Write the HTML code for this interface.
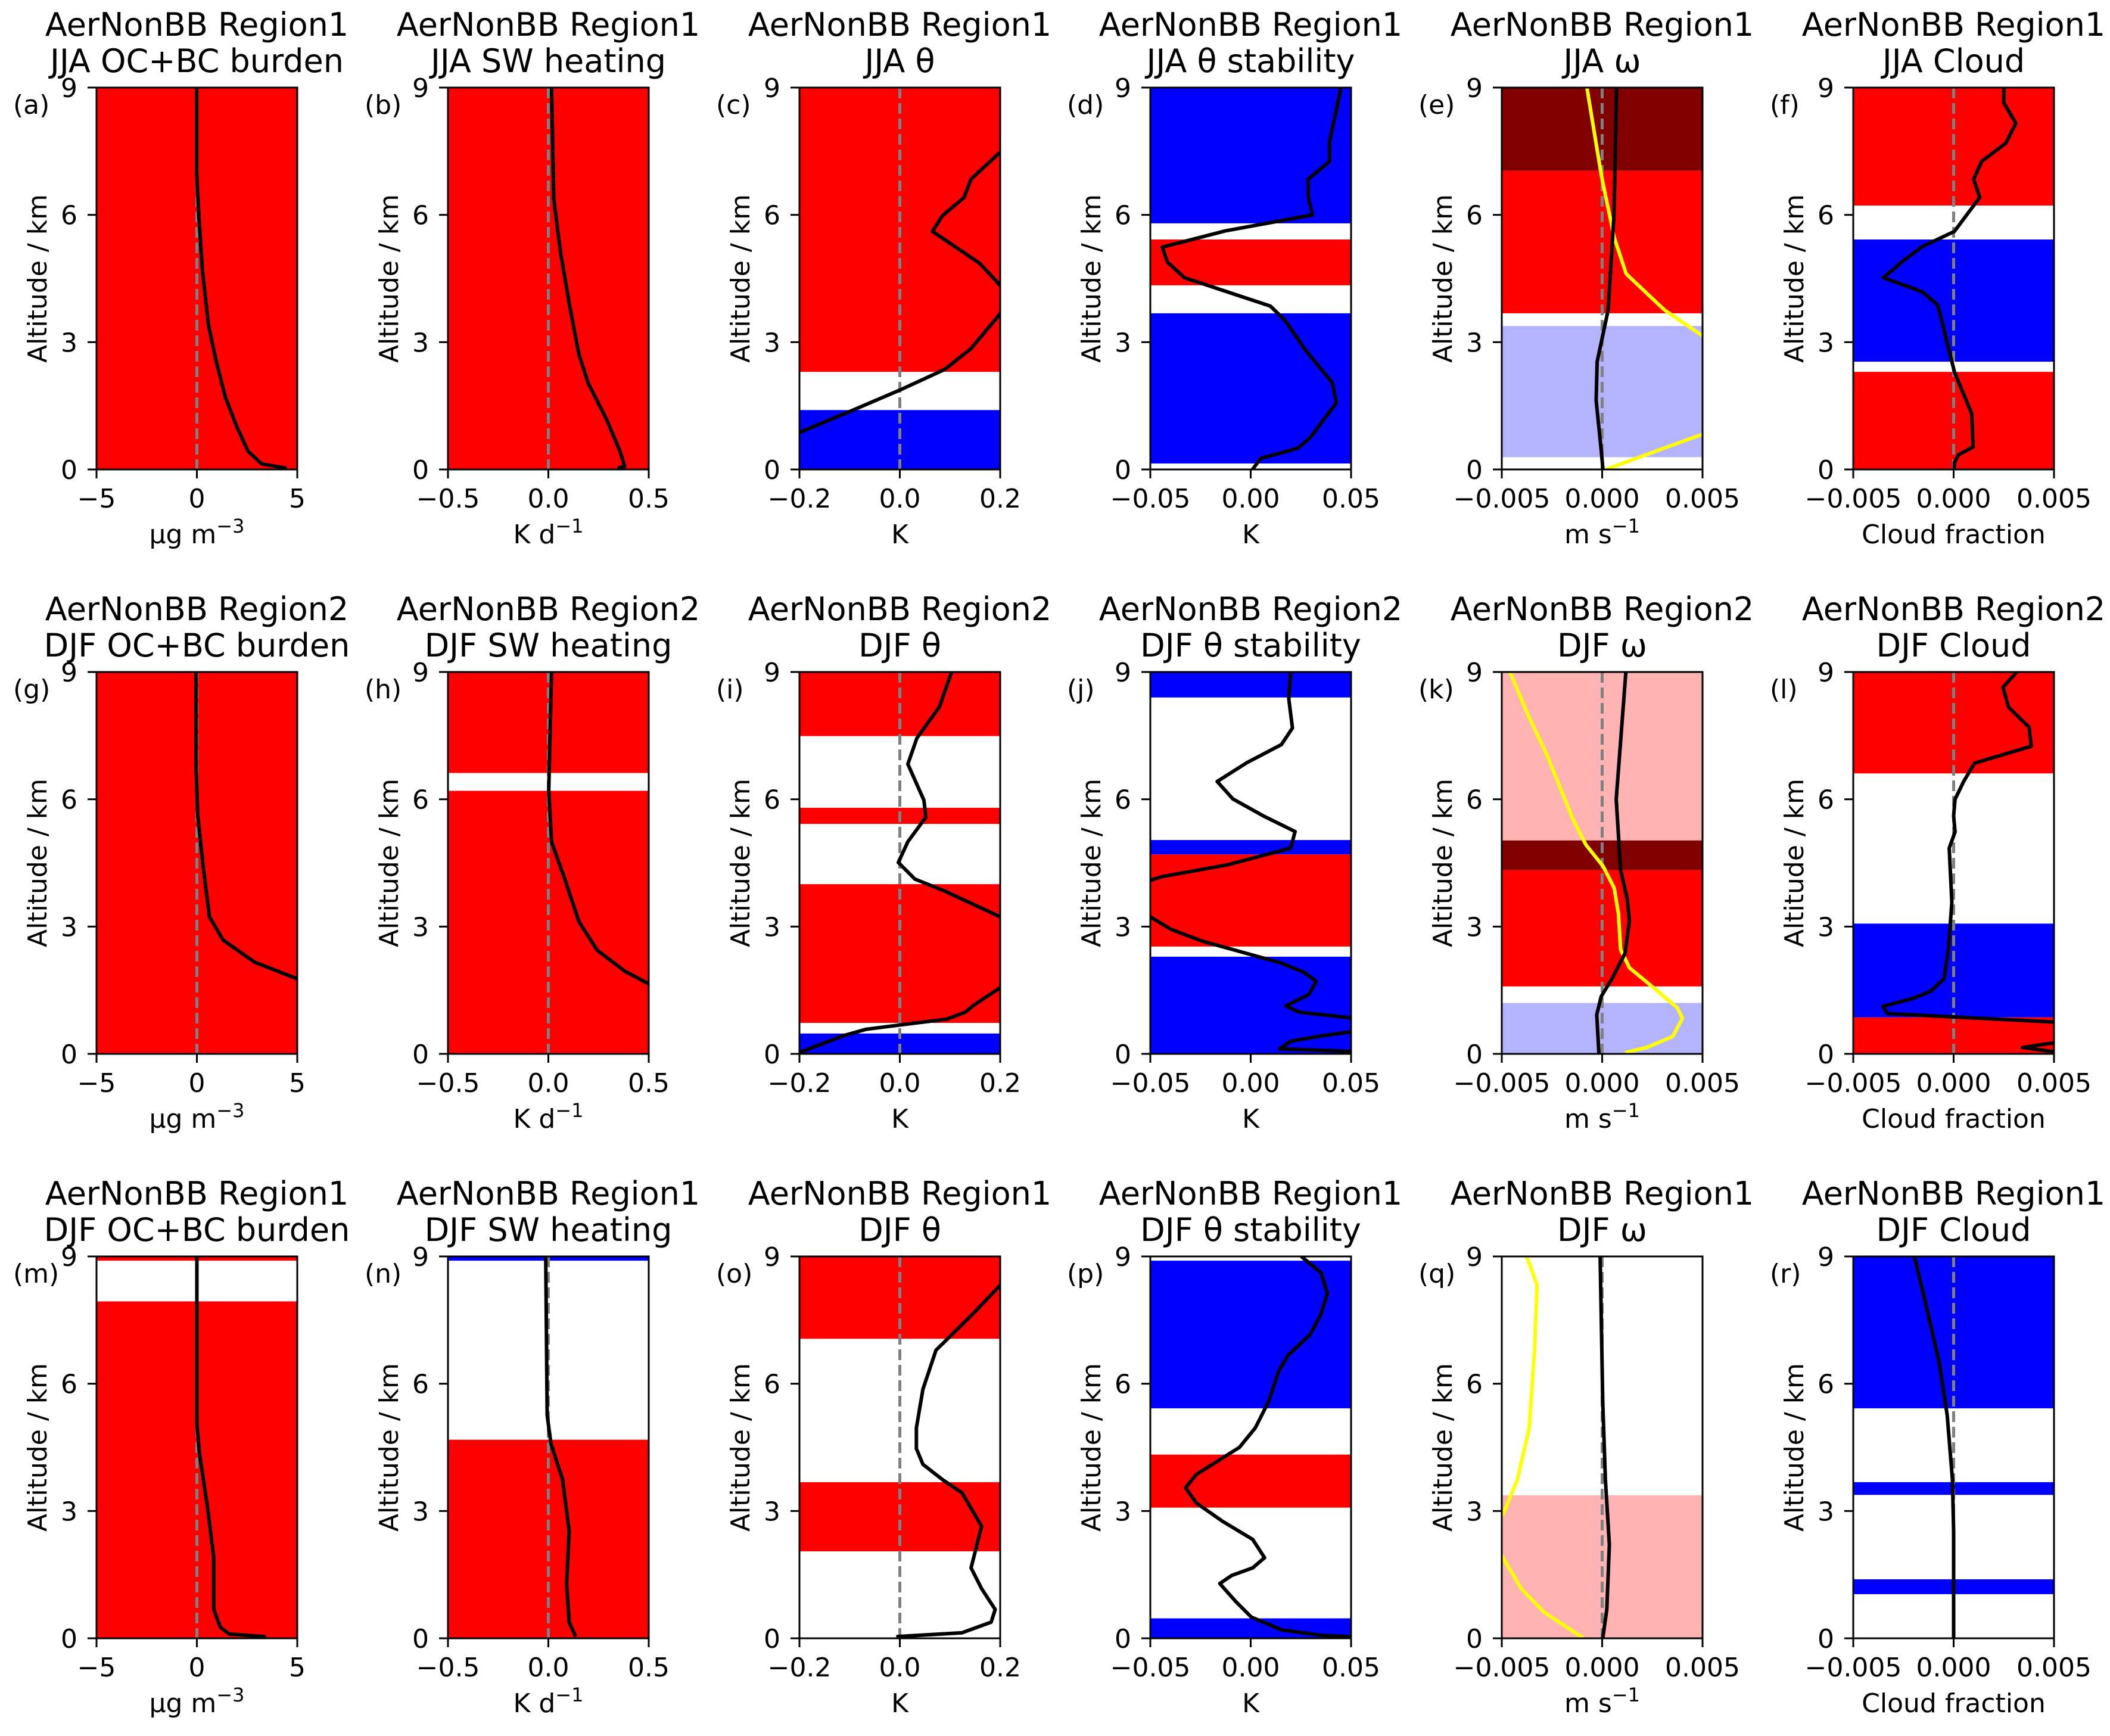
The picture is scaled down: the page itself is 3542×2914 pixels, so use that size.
<!DOCTYPE html>
<html><head><meta charset="utf-8"><style>
html,body{margin:0;padding:0;background:#fff;}
svg{display:block;font-family:"DejaVu Sans","Liberation Sans",sans-serif;}
</style></head><body>
<svg id="fig" width="3542" height="2914" viewBox="0 0 3542 2914" xmlns="http://www.w3.org/2000/svg"></svg>
<script>
// ---------- data (altitude in km, values in axis units) ----------
const altA=[9,6.98,5.96,4.68,3.40,2.55,1.70,1.02,0.43,0.13,0.03];
const valA=[-0.01,-0.01,0.1,0.28,0.58,0.96,1.42,1.98,2.55,3.23,4.48];
const bandLoA=[0],bandHiA=[9],bandColA=['r'];

const altB=[9,6.38,5.1,3.83,2.72,2.04,1.19,0.43,0.07,0.03];
const valB=[0.016,0.027,0.061,0.107,0.152,0.198,0.289,0.357,0.38,0.345];
const bandLoB=[0],bandHiB=[9],bandColB=['r'];

const altC=[9,8.2,7.48,6.84,6.41,5.98,5.61,4.86,4.34,4.0,3.67,2.85,2.36,1.87,1.38,0.87,0.3];
const valC=[0.3,0.25,0.2,0.142,0.128,0.085,0.065,0.159,0.2,0.21,0.2,0.142,0.09,0.0,-0.097,-0.2,-0.3];
const bandLoC=[2.30,0],bandHiC=[9,1.40],bandColC=['r','b'];

const altD=[9,7.72,7.26,6.84,6.43,6.0,5.62,5.24,4.89,4.52,3.85,3.52,2.78,2.05,1.57,0.77,0.5,0.26,0];
const valD=[0.045,0.0393,0.0393,0.0286,0.0286,0.0308,-0.0128,-0.044,-0.0415,-0.033,0.0098,0.017,0.0278,0.0406,0.0427,0.03,0.0235,0.005,0.0009];
const bandLoD=[0.14,4.34,5.80],bandHiD=[3.68,5.42,9],bandColD=['b','r','b'];

const altE=[9,6,3.76,2.54,1.63,0.41,0];
const valE=[0.00072,0.00059,0.0003,-0.00025,-0.0003,-0.00004,0.00004];
const altE2=[9,6.93,5.47,4.61,3.76,3.15,2.2,1.5,0.83,0.47,0];
const valE2=[-0.00076,-0.00004,0.0006,0.0012,0.0031,0.005,0.007,0.0065,0.005,0.0029,0.0002];
const bandLoE=[7.04,3.68,0.29],bandHiE=[9,7.04,3.38],bandColE=['dr','r','lb'];

const altF=[9,8.64,8.16,7.69,7.26,6.84,6.41,5.61,5.25,4.92,4.52,4.19,3.88,3.52,2.85,2.30,1.57,1.32,0.53,0.35,0.16,0];
const valF=[0.0025,0.0025,0.0031,0.0026,0.0014,0.001,0.0013,0.00004,-0.00157,-0.0025,-0.0035,-0.00157,-0.0008,-0.0006,-0.00025,0.00004,0.00068,0.0009,0.00097,0.00025,0.00004,0.00004];
const bandLoF=[6.22,2.54,0],bandHiF=[9,5.42,2.30],bandColF=['r','b','r'];

const altG=[9,6.83,5.61,4.39,3.23,2.68,2.16,1.77,1.4];
const valG=[-0.045,-0.045,0.045,0.32,0.63,1.31,2.88,5.0,6.5];
const bandLoG=[0],bandHiG=[9],bandColG=['r'];

const altH=[9,6.22,5.0,4.09,3.11,2.44,1.95,1.65,1.4];
const valH=[0.016,0.002,0.016,0.084,0.153,0.244,0.381,0.5,0.6];
const bandLoH=[6.62,0],bandHiH=[9,6.20],bandColH=['r','r'];

const altI=[9,8.18,7.44,6.83,5.98,5.58,5.0,4.51,4.12,3.84,3.23,2.4,1.56,1.16,0.98,0.82,0.58,0.43,0.03];
const valI=[0.103,0.079,0.034,0.016,0.048,0.052,0.016,-0.003,0.03,0.089,0.2,0.3,0.2,0.149,0.13,0.094,-0.067,-0.112,-0.2];
const bandLoI=[7.49,5.42,0.73,0],bandHiI=[9,5.80,4.0,0.48],bandColI=['r','r','r','b'];

const altJ=[9,8.36,7.68,7.29,6.86,6.42,6.01,5.61,5.24,4.85,4.45,4.18,4.09,3.7,3.23,2.93,2.65,2.14,1.92,1.71,1.40,1.13,0.98,0.85,0.7,0.52,0.43,0.30,0.12,0.06];
const valJ=[0.0199,0.019,0.0208,0.0153,-0.002,-0.0167,-0.0089,0.0062,0.0221,0.0199,-0.0121,-0.044,-0.05,-0.06,-0.05,-0.0395,-0.0235,0.0153,0.0267,0.0326,0.029,0.0176,0.0244,0.05,0.06,0.05,0.036,0.02,0.0144,0.05];
const bandLoJ=[8.40,4.70,0],bandHiJ=[9,5.04,2.29],bandColJ=['b','b','b'];
const bandLoJ2=[2.53],bandHiJ2=[4.70],bandColJ2=['r'];

const altK=[9,6.0,4.33,3.65,3.14,2.37,1.77,1.35,0.92,0];
const valK=[0.00118,0.0007,0.00092,0.00125,0.00136,0.00114,0.00049,-0.00005,-0.00027,-0.00016];
const altK2=[9,8.0,7.06,6.30,5.53,4.93,4.42,3.91,3.31,2.46,2.03,1.52,1.09,0.84,0.41,0.15,0.03];
const valK2=[-0.0046,-0.0037,-0.00277,-0.00211,-0.00146,-0.00081,0.00005,0.0006,0.00081,0.00092,0.00136,0.00266,0.00374,0.004,0.00352,0.00222,0.00114];
const bandLoK=[5.03,4.33,1.59,0],bandHiK=[9,5.03,4.33,1.20],bandColK=['lr','dr','r','lb'];

const altL=[9,8.64,8.17,7.70,7.25,6.85,6.42,6.0,5.61,5.23,4.85,3.57,2.46,1.77,1.48,1.31,1.12,0.95,0.75,0.5,0.26,0.15,0.05];
const valL=[0.00315,0.00246,0.00274,0.00376,0.00387,0.00104,0.0005,0.00007,0,0.00007,-0.00022,-0.00009,-0.00026,-0.00048,-0.00113,-0.002,-0.00352,-0.0033,0.005,0.008,0.005,0.00343,0.005];
const bandLoL=[6.61,0.86,0],bandHiL=[9,3.07,0.86],bandColL=['r','b','r'];

const altM=[9,5.08,4.35,3.13,1.90,0.68,0.26,0.10,0.04];
const valM=[0,0,0.13,0.52,0.84,0.84,1.17,1.62,3.44];
const bandLoM=[8.90,0],bandHiM=[9,7.94],bandColM=['r','r'];

const altN=[9,5.26,4.59,3.74,2.52,1.29,0.38,0.04];
const valN=[-0.013,-0.006,0.013,0.071,0.104,0.091,0.104,0.136];
const bandLoN=[8.90,0],bandHiN=[9,4.68],bandColN=['b','r'];

const altO=[9,8.32,7.70,7.09,6.79,5.87,4.96,4.47,4.10,3.74,3.43,2.64,1.66,1.17,0.68,0.38,0.13,0.04];
const valO=[0.23,0.2,0.15,0.098,0.072,0.046,0.033,0.033,0.046,0.085,0.124,0.163,0.142,0.163,0.19,0.182,0.124,-0.007];
const bandLoO=[7.06,2.05],bandHiO=[9,3.68],bandColO=['r','r'];

const altP=[9,8.62,8.13,7.64,7.16,6.67,6.30,5.57,4.96,4.50,3.86,3.55,3.19,2.76,2.33,1.90,1.66,1.48,1.29,0.87,0.50,0.20,0.07,0.04];
const valP=[0.0252,0.035,0.0382,0.035,0.0297,0.0186,0.014,0.0088,0.0023,-0.0056,-0.0271,-0.0324,-0.0271,-0.0141,0.001,0.0069,0.001,-0.0095,-0.0154,-0.0075,0.0003,0.0154,0.035,0.05];
const bandLoP=[5.42,3.08,0],bandHiP=[8.9,4.33,0.47],bandColP=['b','r','b'];

const altQ=[9,5.57,3.74,2.21,0.68,0];
const valQ=[-0.0001,0.00003,0.00016,0.00036,0.00023,0.00003];
const altQ2=[9,8.32,6.79,4.96,3.74,3.0,2.4,1.84,1.17,0.62,0.01];
const valQ2=[-0.00376,-0.00324,-0.00337,-0.00363,-0.00422,-0.00487,-0.0055,-0.00487,-0.00402,-0.00291,-0.00095];
const bandLoQ=[0],bandHiQ=[3.37],bandColQ=['lr'];

const altR=[9,7.70,6.48,5.26,3.74,2.52,0];
const valR=[-0.00195,-0.0013,-0.00071,-0.00032,-0.00006,0,0];
const bandLoR=[5.42,3.38,1.04],bandHiR=[9,3.68,1.39],bandColR=['b','b','b'];

const yTicks=[0,3,6,9];
const xTicksBurden=[-5,0,5], xTickLabBurden=['−5','0','5'];
const xTicksHeat=[-0.5,0,0.5], xTickLabHeat=['−0.5','0.0','0.5'];
const xTicksTheta=[-0.2,0,0.2], xTickLabTheta=['−0.2','0.0','0.2'];
const xTicksStab=[-0.05,0,0.05], xTickLabStab=['−0.05','0.00','0.05'];
const xTicksOmega=[-0.005,0,0.005], xTickLabOmega=['−0.005','0.000','0.005'];

// ---------- layout ----------
const colors={r:'#ff0000',b:'#0000ff',dr:'#800000',lr:'#ffb3b3',lb:'#b3b3ff'};
const colL=[162,752,1342,1931,2521,3111], rowT=[147,1128,2109], AW=337, AH=641;
const svg=document.getElementById('fig');
const NS='http://www.w3.org/2000/svg';
function mk(tag,attrs,parent){const e=document.createElementNS(NS,tag);for(const k in attrs)e.setAttribute(k,attrs[k]);(parent||svg).appendChild(e);return e;}

const kinds={
 burden:{lim:[-5,5],t:xTicksBurden,l:xTickLabBurden,unit:'μg m<tspan dy="-18" font-size="32">−3</tspan>'},
 heat:{lim:[-0.5,0.5],t:xTicksHeat,l:xTickLabHeat,unit:'K d<tspan dy="-18" font-size="32">−1</tspan>'},
 theta:{lim:[-0.2,0.2],t:xTicksTheta,l:xTickLabTheta,unit:'K'},
 stab:{lim:[-0.05,0.05],t:xTicksStab,l:xTickLabStab,unit:'K'},
 omega:{lim:[-0.005,0.005],t:xTicksOmega,l:xTickLabOmega,unit:'m s<tspan dy="-18" font-size="32">−1</tspan>'},
 cloud:{lim:[-0.005,0.005],t:xTicksOmega,l:xTickLabOmega,unit:'Cloud fraction'}
};
const R1='AerNonBB Region1',R2='AerNonBB Region2';
const panels=[
 {id:'a',r:0,c:0,k:'burden',t1:R1,t2:'JJA OC+BC burden',bands:[[bandLoA,bandHiA,bandColA]],lines:[[altA,valA,'#000']],zero:true},
 {id:'b',r:0,c:1,k:'heat',t1:R1,t2:'JJA SW heating',bands:[[bandLoB,bandHiB,bandColB]],lines:[[altB,valB,'#000']],zero:true},
 {id:'c',r:0,c:2,k:'theta',t1:R1,t2:'JJA θ',bands:[[bandLoC,bandHiC,bandColC]],lines:[[altC,valC,'#000']],zero:true},
 {id:'d',r:0,c:3,k:'stab',t1:R1,t2:'JJA θ stability',bands:[[bandLoD,bandHiD,bandColD]],lines:[[altD,valD,'#000']],zero:false},
 {id:'e',r:0,c:4,k:'omega',t1:R1,t2:'JJA ω',bands:[[bandLoE,bandHiE,bandColE]],lines:[[altE2,valE2,'#ffff00'],[altE,valE,'#000']],zero:true},
 {id:'f',r:0,c:5,k:'cloud',t1:R1,t2:'JJA Cloud',bands:[[bandLoF,bandHiF,bandColF]],lines:[[altF,valF,'#000']],zero:true},
 {id:'g',r:1,c:0,k:'burden',t1:R2,t2:'DJF OC+BC burden',bands:[[bandLoG,bandHiG,bandColG]],lines:[[altG,valG,'#000']],zero:true},
 {id:'h',r:1,c:1,k:'heat',t1:R2,t2:'DJF SW heating',bands:[[bandLoH,bandHiH,bandColH]],lines:[[altH,valH,'#000']],zero:true},
 {id:'i',r:1,c:2,k:'theta',t1:R2,t2:'DJF θ',bands:[[bandLoI,bandHiI,bandColI]],lines:[[altI,valI,'#000']],zero:true},
 {id:'j',r:1,c:3,k:'stab',t1:R2,t2:'DJF θ stability',bands:[[bandLoJ,bandHiJ,bandColJ],[bandLoJ2,bandHiJ2,bandColJ2]],lines:[[altJ,valJ,'#000']],zero:false},
 {id:'k',r:1,c:4,k:'omega',t1:R2,t2:'DJF ω',bands:[[bandLoK,bandHiK,bandColK]],lines:[[altK2,valK2,'#ffff00'],[altK,valK,'#000']],zero:true},
 {id:'l',r:1,c:5,k:'cloud',t1:R2,t2:'DJF Cloud',bands:[[bandLoL,bandHiL,bandColL]],lines:[[altL,valL,'#000']],zero:true},
 {id:'m',r:2,c:0,k:'burden',t1:R1,t2:'DJF OC+BC burden',bands:[[bandLoM,bandHiM,bandColM]],lines:[[altM,valM,'#000']],zero:true},
 {id:'n',r:2,c:1,k:'heat',t1:R1,t2:'DJF SW heating',bands:[[bandLoN,bandHiN,bandColN]],lines:[[altN,valN,'#000']],zero:true},
 {id:'o',r:2,c:2,k:'theta',t1:R1,t2:'DJF θ',bands:[[bandLoO,bandHiO,bandColO]],lines:[[altO,valO,'#000']],zero:true},
 {id:'p',r:2,c:3,k:'stab',t1:R1,t2:'DJF θ stability',bands:[[bandLoP,bandHiP,bandColP]],lines:[[altP,valP,'#000']],zero:false},
 {id:'q',r:2,c:4,k:'omega',t1:R1,t2:'DJF ω',bands:[[bandLoQ,bandHiQ,bandColQ]],lines:[[altQ2,valQ2,'#ffff00'],[altQ,valQ,'#000']],zero:true},
 {id:'r',r:2,c:5,k:'cloud',t1:R1,t2:'DJF Cloud',bands:[[bandLoR,bandHiR,bandColR]],lines:[[altR,valR,'#000']],zero:true}
];

const defs=mk('defs',{});
panels.forEach(p=>{
 const L=colL[p.c],T=rowT[p.r],kd=kinds[p.k];
 const xs=v=>L+(v-kd.lim[0])/(kd.lim[1]-kd.lim[0])*AW;
 const ys=a=>T+AH-a/9*AH;
 const g=mk('g',{});
 
 
 const cp=mk('clipPath',{id:'cp'+p.id},defs);
 mk('rect',{x:L,y:T,width:AW,height:AH},cp);
 const plot=mk('g',{'clip-path':'url(#cp'+p.id+')'},g);
 p.bands.forEach(bs=>{
  const [lo,hi,col]=bs;
  for(let i=0;i<lo.length;i++){
   const r=mk('rect',{x:L,y:ys(hi[i]),width:AW,height:ys(lo[i])-ys(hi[i]),fill:colors[col[i]]},plot);
   
   
  }
 });
 if(p.zero){
  const z=mk('line',{x1:xs(0),x2:xs(0),y1:T,y2:T+AH,stroke:'#808080','stroke-width':5,'stroke-dasharray':'18,8'},plot);
  
  
 }
 p.lines.forEach(ln=>{
  const [al,vl,col]=ln;
  const pts=al.map((a,i)=>xs(vl[i]).toFixed(1)+','+ys(a).toFixed(1)).join(' ');
  const pl=mk('polyline',{points:pts,fill:'none',stroke:col,'stroke-width':6,'stroke-linejoin':'round'},plot);
  
  
 });
 const fr=mk('rect',{x:L,y:T,width:AW,height:AH,fill:'none',stroke:'#000','stroke-width':3},g);
 
 
 yTicks.forEach(t=>{
  mk('line',{x1:L-15,x2:L,y1:ys(t),y2:ys(t),stroke:'#000','stroke-width':3},g);
  const tx=mk('text',{x:L-32,y:ys(t)+16,'text-anchor':'end','font-size':44},g);
  tx.textContent=String(t);
  
  
 });
 kd.t.forEach((t,i)=>{
  mk('line',{x1:xs(t),x2:xs(t),y1:T+AH,y2:T+AH+15,stroke:'#000','stroke-width':3},g);
  const tx=mk('text',{x:xs(t),y:T+AH+64,'text-anchor':'middle','font-size':44},g);
  tx.textContent=kd.l[i];
  
  
 });
 const xl=mk('text',{x:L+AW/2,y:T+AH+124,'text-anchor':'middle','font-size':44},g);
 xl.innerHTML=kd.unit;
 
 
 const yl=mk('text',{x:L-84,y:T+AH/2,'text-anchor':'middle','font-size':44,transform:'rotate(-90 '+(L-84)+' '+(T+AH/2)+')'},g);
 yl.textContent='Altitude / km';
 
 
 const t1=mk('text',{x:L+AW/2,y:T-87,'text-anchor':'middle','font-size':54},g);
 t1.textContent=p.t1;
 
 
 const t2=mk('text',{x:L+AW/2,y:T-26,'text-anchor':'middle','font-size':54},g);
 t2.textContent=p.t2;
 
 
 const pl=mk('text',{x:L-140,y:T+44,'font-size':44},g);
 pl.textContent='('+p.id+')';
 
 
});
</script>
</body></html>
